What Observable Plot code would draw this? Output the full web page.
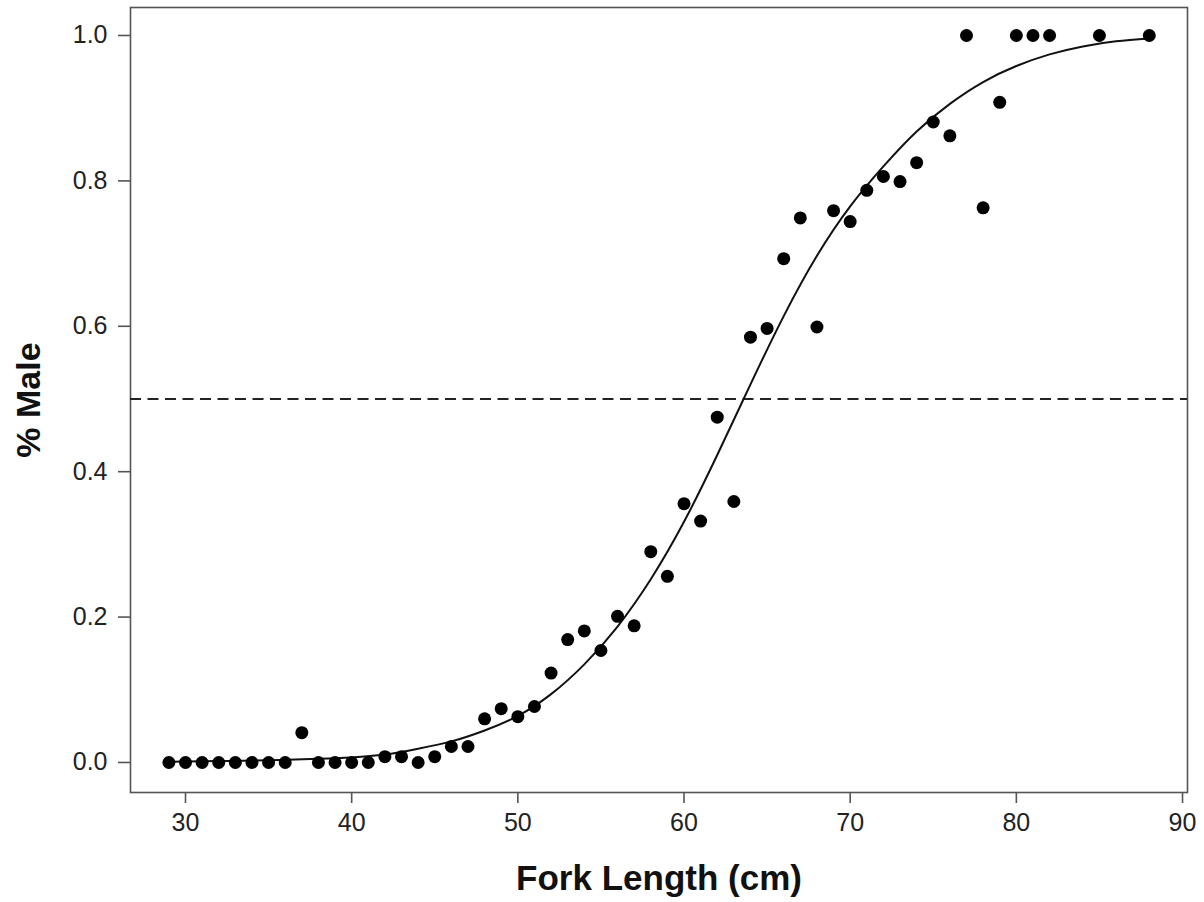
<!DOCTYPE html>
<html>
<head>
<meta charset="utf-8">
<script src="https://cdn.jsdelivr.net/npm/d3@7"></script>
<script src="https://cdn.jsdelivr.net/npm/@observablehq/plot@0.6"></script>
<style>
  html, body { margin: 0; padding: 0; background: #fff; }
  #chart { width: 1204px; height: 902px; }
</style>
</head>
<body>
<div id="chart"></div>
<script>
// Observed proportion of males by fork length class
const forkLength = [
  29, 30, 31, 32, 33, 34, 35, 36, 37, 38, 39, 40, 41, 42, 43, 44, 45, 46, 47, 48,
  49, 50, 51, 52, 53, 54, 55, 56, 57, 58, 59, 60, 61, 62, 63, 64, 65, 66, 67, 68,
  69, 70, 71, 72, 73, 74, 75, 76, 77, 78, 79, 80, 81, 82, 85, 88
];
const pctMale = [
  0, 0, 0, 0, 0, 0, 0, 0, 0.041, 0, 0, 0, 0, 0.008, 0.008, 0, 0.008, 0.022, 0.022, 0.060,
  0.074, 0.063, 0.077, 0.123, 0.169, 0.181, 0.154, 0.201, 0.188, 0.290, 0.256, 0.356, 0.332, 0.475, 0.359, 0.585, 0.597, 0.693, 0.749, 0.599,
  0.759, 0.744, 0.787, 0.806, 0.799, 0.825, 0.881, 0.862, 1.0, 0.763, 0.908, 1.0, 1.0, 1.0, 1.0, 1.0
];

// Fitted maturity ogive (logistic), sampled along the length range
const curveLength = [29, 32, 35, 38, 40, 42, 44, 46, 48, 50, 52, 54, 56, 58, 60, 62, 64, 66, 68, 70, 72, 74, 76, 78, 80, 82, 84, 86, 88];
const curveFit = [0.001, 0.002, 0.003, 0.005, 0.007, 0.011, 0.019, 0.029, 0.044, 0.064, 0.094, 0.135, 0.187, 0.252, 0.331, 0.423, 0.520, 0.614, 0.697, 0.765, 0.820, 0.868, 0.906, 0.936, 0.958, 0.974, 0.985, 0.992, 0.996];

// 50% reference level
const halfLevel = [0.5];

const xTicks = [30, 40, 50, 60, 70, 80, 90];
const yTicks = [0, 0.2, 0.4, 0.6, 0.8, 1.0];

const points = forkLength.map((x, i) => ({length: x, male: pctMale[i]}));
const fit = curveLength.map((x, i) => ({length: x, male: curveFit[i]}));

const chart = Plot.plot({
  width: 1204,
  height: 902,
  marginLeft: 130,
  marginRight: 17,
  marginTop: 7,
  marginBottom: 110,
  style: {fontFamily: "'Liberation Sans', Arial, sans-serif", color: "#222", background: "#fff"},
  x: {domain: [26.69, 90.3], label: null},
  y: {domain: [-0.0413, 1.0385], label: null},
  marks: [
    Plot.frame({stroke: "#555", strokeWidth: 1.6}),
    Plot.axisX({ticks: xTicks, tickSize: 11, tickPadding: 10, fontSize: 25, stroke: "#555", strokeWidth: 1.6, label: null}),
    Plot.axisY({ticks: yTicks, tickSize: 12, tickPadding: 11, fontSize: 25, tickFormat: d3.format(".1f"), stroke: "#555", strokeWidth: 1.6, label: null}),
    Plot.ruleY(halfLevel, {stroke: "#222", strokeWidth: 2.2, strokeDasharray: "11,6.5"}),
    Plot.line(fit, {x: "length", y: "male", curve: "natural", stroke: "#111", strokeWidth: 2}),
    Plot.dot(points, {x: "length", y: "male", r: 6.5, fill: "#000", stroke: "none"}),
    Plot.text(["Fork Length (cm)"], {frameAnchor: "bottom", dy: 86, fontSize: 35, fontWeight: "bold", fill: "#111", textAnchor: "middle", lineAnchor: "middle"}),
    Plot.text(["% Male"], {frameAnchor: "left", dx: -101, rotate: -90, fontSize: 34, fontWeight: "bold", fill: "#111", textAnchor: "middle", lineAnchor: "middle"})
  ]
});

document.getElementById("chart").appendChild(chart);
</script>
</body>
</html>
